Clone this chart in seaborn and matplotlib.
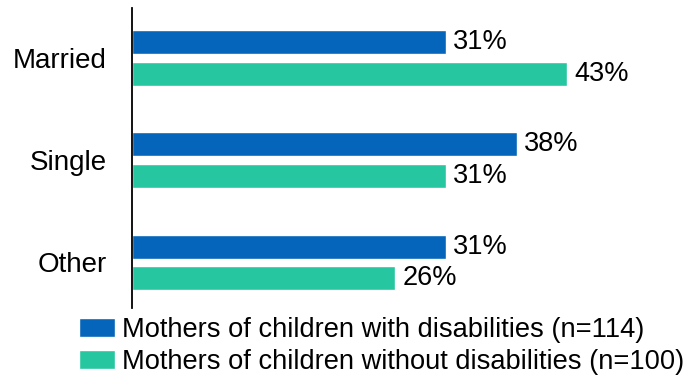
import pandas as pd
import matplotlib.pyplot as plt
import seaborn as sns

categories = ["Married", "Single", "Other"]
groups = ["Mothers of children with disabilities (n=114)",
          "Mothers of children without disabilities (n=100)"]
with_disab = [31, 38, 31]
without_disab = [43, 31, 26]
colors = ["#0565BA", "#26C6A0"]


def main():
    df = pd.DataFrame({
        "status": categories * 2,
        "group": [groups[0]] * 3 + [groups[1]] * 3,
        "pct": with_disab + without_disab,
    })

    sns.set_style("white")
    plt.rcParams["font.family"] = ["Liberation Sans", "DejaVu Sans"]
    plt.rcParams["text.color"] = "black"

    fig = plt.figure(figsize=(6.91, 3.79), dpi=100)
    ax = fig.add_axes([132 / 691, 1 - 308 / 379, 557 / 691, 300 / 379])
    sns.barplot(data=df, y="status", x="pct", hue="group", orient="h",
                palette=colors, width=0.61, gap=0.23, saturation=1,
                ax=ax, legend=True)

    for cont in ax.containers:
        ax.bar_label(cont, fmt="%d%%", padding=5, fontsize=19.5, color="black")

    ax.set_xlim(0, 55)
    ax.set_ylim(2.45, -0.49)
    ax.set_xlabel("")
    ax.set_ylabel("")
    ax.set_xticks([])
    ax.tick_params(axis="y", length=0, pad=18, labelsize=20, labelcolor="black")
    for s in ["top", "right", "bottom"]:
        ax.spines[s].set_visible(False)
    ax.spines["left"].set_color("black")
    ax.spines["left"].set_linewidth(1.3)

    handles, labels = ax.get_legend_handles_labels()
    ax.legend_.remove()
    fig.legend(handles, labels, loc="lower left", bbox_to_anchor=(60 / 691, -0.04),
               frameon=False, fontsize=19.6, handlelength=1.32, handleheight=0.73,
               handletextpad=0.25, labelspacing=0.22, borderpad=0.2)

    fig.savefig("out.png", dpi=100)
    plt.close(fig)


if __name__ == "__main__":
    main()
